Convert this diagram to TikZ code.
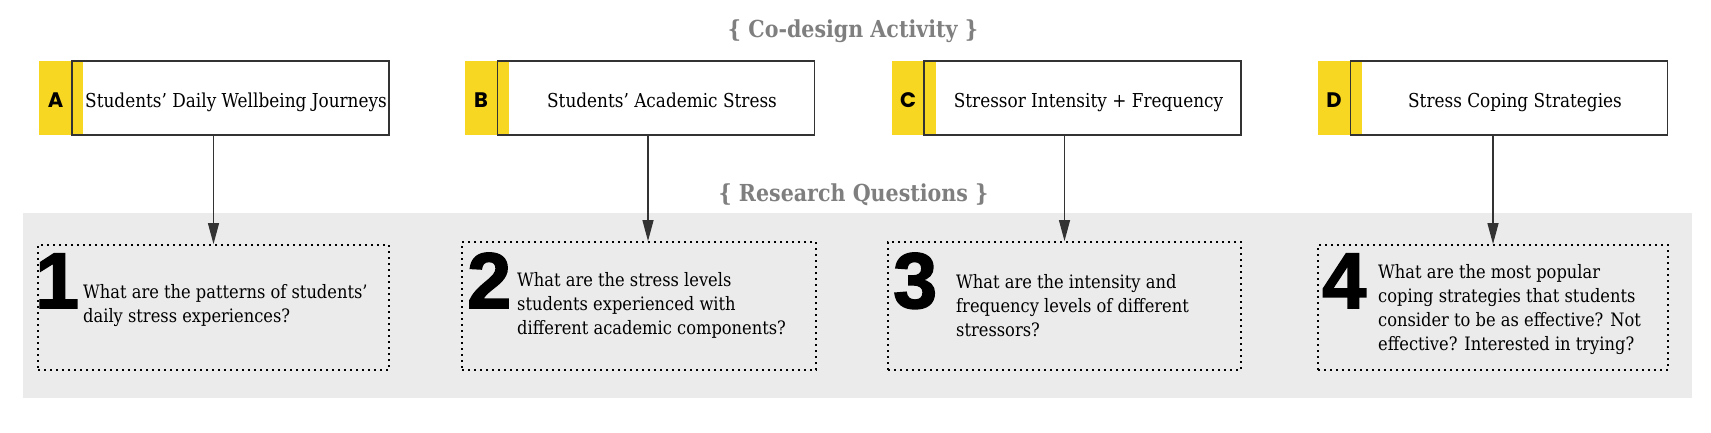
\documentclass[tikz,border=0pt]{standalone}
\usepackage{fontspec}
\setmainfont{DejaVu Serif}[FakeStretch=0.88]
\newfontfamily\lblfont{Poppins}
\newfontfamily\numfont{Liberation Sans}[BoldFeatures={FakeBold=2}]
\usetikzlibrary{arrows.meta,calc}
\definecolor{ylw}{HTML}{F7D722}
\definecolor{bgg}{HTML}{EBEBEB}
\definecolor{ttl}{HTML}{7F7F7F}
\definecolor{ln}{HTML}{333333}
\begin{document}
\begin{tikzpicture}[x=1pt,y=-1pt,
  topbox/.style={draw=ln, line width=1.2pt, minimum width=317pt, minimum height=74pt, inner sep=0pt},
  lbl/.style={font=\lblfont\bfseries\fontsize{21}{21}\selectfont, text=black, inner sep=0pt, anchor=base},
  ttext/.style={font=\fontsize{19.2}{24}\selectfont, inner sep=0pt, anchor=base},
  qtext/.style={font=\fontsize{18.5}{24}\selectfont, inner sep=0pt, anchor=base west, align=left},
  qnum/.style={font=\numfont\bfseries\fontsize{79}{79}\selectfont, inner sep=0pt, anchor=base west},
  qbox/.style={draw=black, line width=1.8pt, dash pattern=on 1.8pt off 4.2pt, inner sep=0pt},
  header/.style={font=\bfseries\fontsize{23.4}{23.4}\selectfont, text=ttl, inner sep=0pt, anchor=base},
  arr/.style={draw=ln, line width=1.2pt, -{Triangle[length=21pt,width=11pt]}}
]
\useasboundingbox (0,0) rectangle (1711,432);

% headers
\node[header] (h1) at (853,37) {\{ Co-design Activity \}};
\node[header] (h2) at (853.5,201) {\{ Research Questions \}};

% background panel
\fill[bgg] (23,213) rectangle (1692,398);

% top boxes: yellow tabs
\fill[ylw] (39,61) rectangle (83,135);
\fill[ylw] (465,61) rectangle (509,135);
\fill[ylw] (892,61) rectangle (936,135);
\fill[ylw] (1318,61) rectangle (1362,135);

\node[topbox] (ta) at (230.5,98) {};
\node[topbox] (tb) at (656,98) {};
\node[topbox] (tc) at (1082.5,98) {};
\node[topbox] (td) at (1509,98) {};

\node[lbl] (la) at (55.5,107) {A};
\node[lbl] (lb) at (481,107) {B};
\node[lbl] (lc) at (908,107) {C};
\node[lbl] (ld) at (1334,107) {D};

\node[ttext] (xa) at (236,107) {Students’ Daily Wellbeing Journeys};
\node[ttext] (xb) at (662,107) {Students’ Academic Stress};
\node[ttext] (xc) at (1088.5,107) {Stressor Intensity + Frequency};
\node[ttext] (xd) at (1515,107) {Stress Coping Strategies};

% question boxes
\node[qbox, minimum width=351pt, minimum height=125pt] (qa) at (213.5,307.5) {};
\node[qbox, minimum width=354pt, minimum height=128pt] (qb) at (639,306) {};
\node[qbox, minimum width=353pt, minimum height=128pt] (qc) at (1064.5,306) {};
\node[qbox, minimum width=350pt, minimum height=125pt] (qd) at (1493,307.5) {};

\node[qnum] (na) at (35,308) {1};
\node[qnum] (nb) at (467,308) {2};
\node[qnum] (nc) at (893,308) {3};
\node[qnum] (nd) at (1322,308) {4};

% anchor is the baseline of the last line
\node[qtext] (wa) at (83,322) {What are the patterns of students’\\daily stress experiences?};
\node[qtext] (wb) at (517,334) {What are the stress levels\\students experienced with\\different academic components?};
\node[qtext] (wc) at (956,336) {What are the intensity and\\frequency levels of different\\stressors?};
\node[qtext] (wd) at (1378,350) {What are the most popular\\coping strategies that students\\consider to be as effective? Not\\effective? Interested in trying?};

% connectors
\coordinate (b2) at ($(qb.north)+(9,0)$);
\draw[arr] (ta.south -| qa.north) -- (qa.north);
\draw[arr] (tb.south -| b2) -- (b2);
\draw[arr] (tc.south -| qc.north) -- (qc.north);
\draw[arr] (td.south -| qd.north) -- (qd.north);
\end{tikzpicture}
\end{document}
